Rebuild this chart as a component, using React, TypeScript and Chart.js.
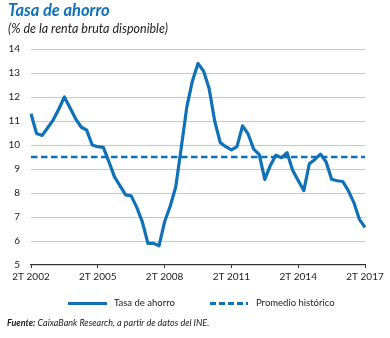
import React, { useEffect, useRef } from "react";
import { Chart, registerables } from "chart.js";

Chart.register(...registerables);

// Quarterly categories 2T 2002 .. 2T 2017
const startYear = 2002;
const quarters: string[] = [];
for (let k = 0; k < 61; k++) {
  const q = ((1 + k) % 4) + 1;
  const y = startYear + Math.floor((1 + k) / 4);
  quarters.push(`${q}T ${y}`);
}

const tasaAhorro = [
  11.3, 10.48, 10.4, 10.72, 11.05, 11.5, 12.0, 11.55, 11.1, 10.75,
  10.62, 10.0, 9.93, 9.9, 9.3, 8.67, 8.3, 7.92, 7.88, 7.4,
  6.8, 5.9, 5.9, 5.8, 6.8, 7.45, 8.25, 9.9, 11.6, 12.67,
  13.4, 13.08, 12.35, 11.0, 10.1, 9.93, 9.8, 9.93, 10.8, 10.46,
  9.83, 9.6, 8.57, 9.15, 9.58, 9.47, 9.68, 8.95, 8.52, 8.1,
  9.22, 9.4, 9.62, 9.3, 8.57, 8.51, 8.48, 8.1, 7.6, 6.9,
  6.57,
];

const promedioHistorico = 9.5;

const yMin = 5;
const yMax = 14;

const BLUE = "#0f72b9";
const FONT = "Lato, 'Open Sans', sans-serif";

export default function App() {
  const ref = useRef<HTMLCanvasElement | null>(null);

  useEffect(() => {
    if (!ref.current) return;
    const chart = new Chart(ref.current, {
      type: "line",
      data: {
        labels: quarters,
        datasets: [
          {
            label: "Tasa de ahorro",
            data: tasaAhorro,
            borderColor: BLUE,
            borderWidth: 3.2,
            pointRadius: 0,
            tension: 0,
            borderJoinStyle: "round",
            borderCapStyle: "butt",
          },
          {
            label: "Promedio histórico",
            data: quarters.map(() => promedioHistorico),
            borderColor: BLUE,
            borderWidth: 2.6,
            borderDash: [6.5, 3.5],
            pointRadius: 0,
            tension: 0,
          },
        ],
      },
      options: {
        animation: false,
        responsive: false,
        devicePixelRatio: 1,
        layout: { padding: { left: 0, top: 49, right: 25, bottom: 0 } },
        plugins: { legend: { display: false }, tooltip: { enabled: false } },
        scales: {
          x: {
            type: "category",
            offset: false,
            afterFit: (s: any) => {
              s.height = 73;
            },
            grid: {
              display: true,
              drawOnChartArea: false,
              drawTicks: true,
              tickLength: 3,
              color: "#333",
              lineWidth: 1,
            },
            border: { display: true, color: "#333", width: 1.2 },
            ticks: {
              autoSkip: false,
              maxRotation: 0,
              minRotation: 0,
              padding: 3,
              color: "#222",
              font: { family: FONT, size: 10 },
              callback: (_v: any, i: number) =>
                i % 12 === 0 ? quarters[i] : null,
            },
          },
          y: {
            min: yMin,
            max: yMax,
            afterFit: (s: any) => {
              s.width = 31;
            },
            border: { display: false },
            grid: {
              drawTicks: false,
              color: (ctx: any) =>
                ctx.tick && ctx.tick.value === yMin ? "rgba(0,0,0,0)" : "#c9c9c9",
              lineWidth: 1,
            },
            ticks: {
              stepSize: 1,
              padding: 11,
              color: "#222",
              font: { family: FONT, size: 10 },
            },
          },
        },
      },
    });
    return () => chart.destroy();
  }, []);

  const abs = (o: React.CSSProperties): React.CSSProperties => ({
    position: "absolute",
    whiteSpace: "nowrap",
    fontFamily: FONT,
    ...o,
  });

  return (
    <div
      style={{
        position: "absolute",
        left: 0,
        top: 0,
        width: 390,
        height: 338,
        background: "#fff",
        overflow: "hidden",
      }}
    >
      <canvas
        ref={ref}
        width={390}
        height={338}
        style={{ position: "absolute", left: 0, top: 0, width: 390, height: 338 }}
      />
      <div
        style={abs({
          left: 8,
          top: 0,
          fontSize: 16.5,
          fontWeight: 700,
          fontStyle: "italic",
          color: BLUE,
          lineHeight: "20px",
        })}
      >
        Tasa de ahorro
      </div>
      <div
        style={abs({
          left: 8,
          top: 21,
          fontSize: 12.5,
          fontStyle: "italic",
          color: "#222",
          lineHeight: "16px",
        })}
      >
        (% de la renta bruta disponible)
      </div>
      {/* Legend */}
      <div
        style={abs({ left: 68, top: 302, width: 39, height: 3, background: BLUE })}
      />
      <div style={abs({ left: 114, top: 296, fontSize: 9.5, color: "#222", lineHeight: "14px" })}>
        Tasa de ahorro
      </div>
      <div
        style={abs({
          left: 210,
          top: 302,
          width: 38,
          height: 2.6,
          background: `repeating-linear-gradient(to right, ${BLUE} 0px, ${BLUE} 6px, rgba(0,0,0,0) 6px, rgba(0,0,0,0) 9px)`,
        })}
      />
      <div style={abs({ left: 256, top: 296, fontSize: 9.5, color: "#222", lineHeight: "14px" })}>
        Promedio histórico
      </div>
      {/* Source */}
      <div
        style={abs({
          left: 7,
          top: 316,
          fontSize: 9,
          fontStyle: "italic",
          color: "#222",
          lineHeight: "14px",
        })}
      >
        <span style={{ fontWeight: 700 }}>Fuente:</span> CaixaBank Research, a partir de datos del INE.
      </div>
    </div>
  );
}
